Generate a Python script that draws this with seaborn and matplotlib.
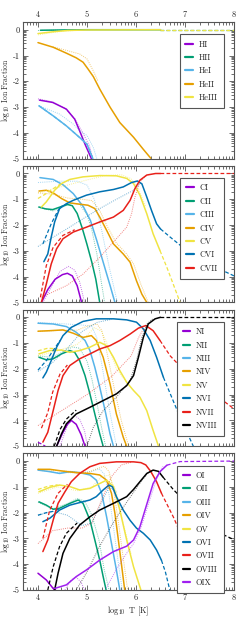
import numpy as np
import seaborn as sns
import matplotlib.pyplot as plt
from matplotlib.ticker import FixedLocator

# ---------------- hydrogen / helium ----------------
HI_T = [4.03, 4.3, 4.58, 4.75, 4.85, 4.96, 5.09]
HI_f = [-2.73, -2.82, -3.08, -3.47, -3.92, -4.44, -5.0]
HI_dot_T = [4.0, 4.3, 4.55, 4.75, 4.9, 5.05, 5.12]
HI_dot_f = [-2.68, -2.8, -3.05, -3.45, -3.95, -4.5, -5.0]

HII_T = [4.05, 4.5, 5.0, 6.5]
HII_f = [-0.02, -0.01, 0.0, 0.0]
HII_tail_T = [6.5, 8.0]
HII_tail_f = [0.0, 0.0]
HII_dot_T = [4.0, 4.3, 4.6]
HII_dot_f = [-0.03, -0.02, -0.01]

HeI_T = [4.02, 4.31, 4.58, 4.85, 5.0, 5.12]
HeI_f = [-2.95, -3.34, -3.73, -4.18, -4.44, -5.0]
HeI_dot_T = [4.02, 4.44, 4.72, 4.85, 5.0, 5.13, 5.2]
HeI_dot_f = [-2.95, -3.27, -3.66, -3.92, -4.1, -4.57, -5.0]

HeII_T = [4.0, 4.31, 4.58, 4.78, 4.92, 5.02, 5.13, 5.26, 5.47, 5.67, 5.95, 6.15, 6.3]
HeII_f = [-0.5, -0.68, -0.91, -1.09, -1.26, -1.52, -1.82, -2.3, -3.0, -3.6, -4.17, -4.64, -4.98]
HeII_dot_T = [4.3, 4.58, 4.85, 5.0, 5.13, 5.22]
HeII_dot_f = [-0.66, -0.8, -0.94, -1.13, -1.6, -1.97]

HeIII_T = [4.0, 4.3, 4.6, 5.0, 6.5]
HeIII_f = [-0.15, -0.08, -0.03, -0.01, 0.0]
HeIII_tail_T = [6.5, 8.0]
HeIII_tail_f = [0.0, 0.0]
HeIII_dot_T = [4.0, 4.4, 4.8]
HeIII_dot_f = [-0.2, -0.08, -0.02]

# ---------------- carbon ----------------
CI_T = [4.07, 4.2, 4.35, 4.5, 4.6, 4.7, 4.8, 4.89]
CI_f = [-5.0, -4.5, -4.1, -3.92, -3.87, -3.97, -4.35, -5.0]
CI_dot_T = [4.1, 4.3, 4.45, 4.62, 4.75, 4.85, 4.95]
CI_dot_f = [-5.0, -4.3, -3.8, -3.6, -3.75, -4.2, -5.0]

CII_T = [4.02, 4.15, 4.3, 4.45, 4.6, 4.7, 4.8, 4.9, 5.0, 5.1, 5.18, 5.26]
CII_f = [-1.3, -1.37, -1.4, -1.3, -1.2, -1.25, -1.55, -2.1, -2.75, -3.45, -4.1, -5.0]
CII_dot_T = [4.0, 4.3, 4.5, 4.7, 4.85, 5.0, 5.1, 5.2, 5.3, 5.36]
CII_dot_f = [-1.3, -1.45, -1.3, -1.15, -1.2, -1.6, -2.2, -3.1, -4.3, -5.0]

CIII_T = [4.04, 4.31, 4.52, 4.72, 4.93, 5.07, 5.2, 5.34, 5.48, 5.57]
CIII_f = [-0.16, -0.23, -0.45, -0.78, -1.3, -1.82, -2.6, -3.5, -4.4, -5.0]
CIII_dot_T = [4.0, 4.4, 4.8, 5.0, 5.15, 5.3, 5.45, 5.62]
CIII_dot_f = [-0.35, -0.3, -0.3, -0.45, -1.0, -2.2, -3.6, -5.0]

CIV_T = [4.02, 4.17, 4.31, 4.48, 4.65, 4.85, 5.02, 5.16, 5.26, 5.4, 5.54, 5.74, 5.88, 6.01, 6.12, 6.22]
CIV_f = [-0.68, -0.65, -0.75, -0.97, -1.14, -1.19, -1.23, -1.36, -1.69, -2.2, -2.73, -3.12, -3.44, -4.16, -4.68, -5.0]
CIV_dot_T = [4.0, 4.3, 4.6, 4.9, 5.1, 5.25, 5.4, 5.6, 5.8, 5.95, 6.1, 6.25]
CIV_dot_f = [-0.75, -0.8, -0.95, -1.0, -1.05, -1.4, -2.0, -2.7, -3.1, -3.5, -4.3, -5.0]

CV_T = [4.07, 4.17, 4.34, 4.48, 4.65, 4.92, 5.26, 5.6, 5.81, 5.95, 6.08, 6.22, 6.35, 6.49]
CV_f = [-1.3, -1.1, -0.65, -0.39, -0.23, -0.13, -0.08, -0.09, -0.19, -0.39, -0.84, -1.56, -2.34, -2.99]
CV_head_T = [4.0, 4.15, 4.3, 4.45]
CV_head_f = [-0.97, -0.8, -0.6, -0.42]
CV_tail_T = [6.49, 6.63, 6.76, 6.9]
CV_tail_f = [-2.99, -3.64, -4.29, -5.0]
CV_dot_T = [4.0, 4.3, 4.6, 5.0, 5.4, 5.7, 5.9, 6.05, 6.2]
CV_dot_f = [-0.75, -0.6, -0.45, -0.25, -0.07, -0.05, -0.2, -0.6, -1.3]

CVI_T = [4.12, 4.2, 4.27, 4.34, 4.44, 4.58, 4.72, 4.99, 5.26, 5.54, 5.74, 5.91, 6.03, 6.12, 6.22, 6.32, 6.42, 6.5]
CVI_f = [-3.42, -3.12, -2.47, -1.88, -1.36, -1.17, -1.04, -0.84, -0.71, -0.62, -0.52, -0.35, -0.29, -0.4, -0.91, -1.45, -1.95, -2.15]
CVI_head_T = [4.1, 4.27, 4.41, 4.5]
CVI_head_f = [-2.73, -1.95, -1.43, -1.25]
CVI_tail_T = [6.5, 6.7, 7.03, 7.37, 7.7, 8.0]
CVI_tail_f = [-2.15, -2.47, -2.98, -3.37, -3.7, -3.97]
CVI_dot_T = [4.0, 4.5, 5.0, 5.26, 5.6, 5.95, 6.1]
CVI_dot_f = [-2.83, -2.25, -1.66, -1.36, -1.0, -0.65, -0.35]

CVII_T = [4.07, 4.17, 4.27, 4.38, 4.51, 4.72, 4.99, 5.26, 5.54, 5.74, 5.88, 5.98, 6.08, 6.22, 6.4, 6.5]
CVII_f = [-5.0, -4.29, -3.51, -2.92, -2.53, -2.27, -2.08, -1.88, -1.69, -1.43, -1.04, -0.58, -0.26, -0.06, 0.0, 0.0]
CVII_head_T = [4.05, 4.17, 4.31, 4.51, 4.75]
CVII_head_f = [-4.8, -3.57, -2.86, -2.4, -2.18]
CVII_tail_T = [6.5, 8.0]
CVII_tail_f = [0.0, 0.0]
CVII_dot_T = [4.07, 4.58, 4.92, 5.26, 5.6, 5.81, 5.91, 5.98, 6.08, 6.22]
CVII_dot_f = [-4.8, -4.35, -3.9, -3.25, -2.53, -2.08, -1.56, -0.91, -0.32, -0.06]

# ---------------- nitrogen ----------------
NI_T = [4.38, 4.5, 4.6, 4.68, 4.78, 4.88, 4.96]
NI_f = [-5.0, -4.5, -4.15, -4.0, -4.15, -4.55, -5.0]
NI_head_T = [4.0, 4.08, 4.15]
NI_head_f = [-4.85, -4.92, -5.0]
NI_dot_T = [4.45, 4.6, 4.75, 4.85, 4.95, 5.01]
NI_dot_f = [-5.0, -4.2, -3.81, -3.95, -4.4, -5.0]

NII_T = [4.02, 4.17, 4.31, 4.48, 4.65, 4.75, 4.85, 4.96, 5.06, 5.16, 5.26, 5.33]
NII_f = [-1.55, -1.65, -1.61, -1.42, -1.29, -1.36, -1.68, -2.26, -2.97, -3.75, -4.52, -5.0]
NII_dot_T = [4.0, 4.3, 4.5, 4.7, 4.85, 5.0, 5.1, 5.2, 5.3, 5.38]
NII_dot_f = [-1.5, -1.55, -1.35, -1.15, -1.2, -1.7, -2.4, -3.3, -4.3, -5.0]

NIII_T = [4.0, 4.31, 4.58, 4.78, 4.96, 5.06, 5.16, 5.26, 5.37, 5.47, 5.54]
NIII_f = [-0.23, -0.26, -0.36, -0.58, -0.9, -1.29, -1.94, -2.71, -3.62, -4.52, -5.0]
NIII_dot_T = [4.0, 4.5, 4.9, 5.1, 5.2, 5.3, 5.45, 5.6]
NIII_dot_f = [-0.2, -0.25, -0.3, -0.35, -0.8, -1.8, -3.5, -5.0]

NIV_T = [4.0, 4.24, 4.51, 4.72, 4.92, 5.09, 5.19, 5.33, 5.47, 5.6, 5.74, 5.81]
NIV_f = [-0.54, -0.52, -0.49, -0.62, -0.78, -0.71, -0.9, -1.55, -2.58, -3.75, -4.65, -5.0]
NIV_dot_T = [4.0, 4.5, 4.8, 5.0, 5.2, 5.3, 5.4, 5.55, 5.7, 5.85]
NIV_dot_f = [-0.55, -0.5, -0.5, -0.35, -0.26, -0.5, -1.3, -2.7, -4.0, -5.0]

NV_T = [4.02, 4.24, 4.48, 4.65, 4.85, 5.06, 5.26, 5.4, 5.54, 5.67, 5.81, 5.95, 6.08, 6.22, 6.35, 6.46]
NV_f = [-1.42, -1.29, -1.27, -1.36, -1.29, -1.16, -0.97, -1.1, -1.55, -2.07, -2.52, -2.84, -3.1, -3.62, -4.39, -5.0]
NV_head_T = [4.0, 4.2, 4.4]
NV_head_f = [-1.3, -1.2, -1.22]
NV_dot_T = [4.0, 4.4, 4.8, 5.0, 5.15, 5.3, 5.45, 5.6, 5.8]
NV_dot_f = [-1.5, -1.3, -1.05, -0.7, -0.4, -0.55, -1.2, -2.0, -2.5]

NVI_T = [4.1, 4.17, 4.27, 4.38, 4.51, 4.68, 4.92, 5.19, 5.54, 5.81, 6.01, 6.15, 6.29, 6.42, 6.56]
NVI_f = [-2.35, -2.13, -1.68, -1.16, -0.71, -0.39, -0.16, -0.06, -0.06, -0.1, -0.19, -0.45, -0.9, -1.55, -2.33]
NVI_head_T = [4.0, 4.17, 4.31, 4.45]
NVI_head_f = [-2.05, -1.68, -1.29, -0.9]
NVI_tail_T = [6.56, 6.7, 6.9, 7.17]
NVI_tail_f = [-2.33, -2.97, -3.88, -5.0]
NVI_dot_T = [4.0, 4.3, 4.6, 4.9, 5.2, 5.5]
NVI_dot_f = [-2.1, -1.75, -1.2, -0.55, -0.2, -0.08]

NVII_T = [4.1, 4.2, 4.31, 4.41, 4.51, 4.65, 4.85, 5.06, 5.26, 5.47, 5.67, 5.88, 6.05, 6.2, 6.35, 6.49]
NVII_f = [-4.84, -4.46, -3.62, -2.84, -2.26, -1.87, -1.61, -1.42, -1.23, -1.1, -0.9, -0.65, -0.42, -0.32, -0.52, -0.9]
NVII_head_T = [4.07, 4.2, 4.3, 4.45, 4.6]
NVII_head_f = [-4.3, -3.7, -2.9, -2.2, -1.85]
NVII_tail_T = [6.49, 6.7, 7.0, 7.3, 7.65, 8.0]
NVII_tail_f = [-0.9, -1.5, -2.1, -2.55, -3.05, -3.55]
NVII_dot_T = [4.0, 4.5, 5.0, 5.5, 5.9, 6.05, 6.15]
NVII_dot_f = [-4.2, -3.6, -3.0, -2.3, -1.5, -0.8, -0.45]

NVIII_T = [4.38, 4.48, 4.58, 4.78, 5.06, 5.33, 5.6, 5.81, 5.95, 6.05, 6.15, 6.25, 6.39, 6.5]
NVIII_f = [-5.0, -4.52, -4.13, -3.75, -3.49, -3.23, -2.97, -2.65, -2.26, -1.55, -0.78, -0.26, -0.06, 0.0]
NVIII_head_T = [4.33, 4.45, 4.58, 4.78]
NVIII_head_f = [-5.0, -4.35, -3.95, -3.6]
NVIII_tail_T = [6.5, 8.0]
NVIII_tail_f = [0.0, 0.0]
NVIII_dot_T = [5.0, 5.13, 5.33, 5.6, 5.88, 6.01, 6.12, 6.22, 6.35]
NVIII_dot_f = [-5.0, -4.26, -3.62, -3.1, -2.45, -1.68, -0.78, -0.26, -0.05]

# ---------------- oxygen ----------------
OI_T = [4.0, 4.17, 4.31, 4.36]
OI_f = [-4.35, -4.61, -4.94, -5.0]
OI_dot_T = [4.55, 4.68, 4.78, 4.88, 4.95]
OI_dot_f = [-5.0, -4.6, -4.5, -4.7, -5.0]

OII_T = [4.02, 4.17, 4.31, 4.44, 4.65, 4.82, 4.92, 5.06, 5.16, 5.26, 5.33, 5.39]
OII_f = [-1.58, -1.71, -1.87, -1.83, -1.64, -1.51, -1.64, -2.29, -3.06, -3.84, -4.48, -5.0]
OII_dot_T = [4.0, 4.3, 4.6, 4.8, 4.95, 5.1, 5.25, 5.35, 5.45]
OII_dot_f = [-1.6, -1.85, -1.65, -1.45, -1.55, -2.1, -3.1, -4.2, -5.0]

OIII_T = [4.0, 4.24, 4.44, 4.65, 4.85, 5.06, 5.19, 5.3, 5.4, 5.5, 5.6, 5.67]
OIII_f = [-0.35, -0.41, -0.48, -0.41, -0.45, -0.54, -0.74, -1.25, -2.16, -3.19, -4.22, -5.0]
OIII_dot_T = [4.0, 4.4, 4.8, 5.1, 5.25, 5.35, 5.45, 5.55, 5.65, 5.72]
OIII_dot_f = [-0.35, -0.45, -0.45, -0.4, -0.3, -0.5, -1.3, -2.7, -4.1, -5.0]

OIV_T = [4.0, 4.24, 4.51, 4.78, 5.06, 5.26, 5.4, 5.5, 5.57, 5.64, 5.71, 5.77]
OIV_f = [-0.32, -0.32, -0.39, -0.45, -0.48, -0.54, -0.74, -1.25, -2.03, -3.06, -4.1, -5.0]
OIV_dot_T = [4.0, 4.5, 5.0, 5.2, 5.35, 5.45, 5.55, 5.65, 5.75, 5.83]
OIV_dot_f = [-0.32, -0.38, -0.45, -0.3, -0.2, -0.4, -1.2, -2.5, -3.9, -5.0]

OV_T = [4.02, 4.24, 4.44, 4.65, 4.85, 5.06, 5.26, 5.4, 5.54, 5.67, 5.81, 5.95, 6.1]
OV_f = [-1.19, -1.02, -0.93, -0.99, -1.12, -1.06, -0.87, -0.74, -0.99, -1.9, -3.06, -4.1, -5.0]
OV_head_T = [4.0, 4.2, 4.4]
OV_head_f = [-1.1, -0.98, -0.92]
OV_dot_T = [4.0, 4.4, 4.8, 5.1, 5.3, 5.45, 5.6, 5.75, 5.9]
OV_dot_f = [-1.25, -1.0, -1.15, -1.0, -0.6, -0.55, -1.2, -2.5, -3.6]

OVI_T = [4.1, 4.24, 4.44, 4.65, 4.85, 5.06, 5.19, 5.33, 5.45, 5.52, 5.6, 5.74, 5.88, 6.01, 6.15, 6.29, 6.42, 6.52]
OVI_f = [-2.35, -2.22, -1.9, -1.71, -1.61, -1.51, -1.38, -1.12, -0.93, -1.0, -1.38, -1.9, -2.3, -2.6, -2.8, -3.06, -3.45, -3.85]
OVI_head_T = [4.0, 4.17, 4.31, 4.45]
OVI_head_f = [-2.1, -2.0, -1.95, -1.85]
OVI_tail_T = [6.52, 6.6, 6.69]
OVI_tail_f = [-3.85, -4.3, -5.0]
OVI_dot_T = [4.0, 4.3, 4.6, 4.9, 5.1, 5.3, 5.45, 5.6]
OVI_dot_f = [-2.1, -1.95, -2.1, -2.5, -2.4, -1.6, -1.0, -1.2]

OVII_T = [4.1, 4.2, 4.31, 4.41, 4.55, 4.68, 4.85, 5.06, 5.26, 5.6, 5.95, 6.1, 6.2, 6.3, 6.42, 6.52]
OVII_f = [-3.51, -3.06, -2.29, -1.64, -1.19, -0.8, -0.48, -0.22, -0.09, -0.03, -0.03, -0.06, -0.15, -0.4, -0.8, -1.25]
OVII_head_T = [4.1, 4.24, 4.41, 4.6]
OVII_head_f = [-3.0, -1.9, -1.25, -0.9]
OVII_tail_T = [6.52, 6.76, 7.03, 7.4]
OVII_tail_f = [-1.25, -2.16, -3.32, -5.0]
OVII_dot_T = [4.0, 4.3, 4.6, 4.9, 5.1, 5.3, 5.5, 5.7, 5.9]
OVII_dot_f = [-3.2, -2.7, -2.6, -2.6, -2.4, -1.5, -0.6, -0.15, -0.05]

OVIII_T = [4.34, 4.41, 4.51, 4.65, 4.85, 5.06, 5.26, 5.54, 5.81, 5.95, 6.08, 6.22, 6.35, 6.46, 6.55]
OVIII_f = [-5.0, -4.35, -3.58, -3.0, -2.48, -2.16, -1.9, -1.64, -1.38, -1.1, -0.8, -0.48, -0.35, -0.4, -0.62]
OVIII_head_T = [4.2, 4.31, 4.44, 4.58, 4.8]
OVIII_head_f = [-5.0, -4.1, -3.32, -2.8, -2.4]
OVIII_tail_T = [6.55, 6.76, 6.97, 7.2, 7.44, 7.72, 8.0]
OVIII_tail_f = [-0.62, -1.1, -1.51, -2.0, -2.5, -2.8, -3.05]
OVIII_dot_T = [4.78, 5.0, 5.26, 5.5, 5.7, 5.9, 6.1, 6.25, 6.35]
OVIII_dot_f = [-5.0, -4.3, -3.3, -2.5, -1.9, -1.35, -0.8, -0.45, -0.35]

OIX_T = [4.34, 4.58, 4.78, 4.99, 5.26, 5.54, 5.81, 5.95, 6.08, 6.2, 6.35, 6.49, 6.63]
OIX_f = [-4.94, -4.8, -4.48, -4.22, -3.84, -3.51, -3.3, -3.06, -2.55, -1.8, -0.87, -0.41, -0.16]
OIX_tail_T = [6.63, 6.9, 8.0]
OIX_tail_f = [-0.16, -0.02, 0.0]
OIX_dot_T = [5.39, 5.6, 5.8, 5.95, 6.1, 6.25, 6.4, 6.55]
OIX_dot_f = [-4.93, -4.2, -3.6, -3.2, -2.6, -1.7, -0.8, -0.2]

stage_colors = ['#9400D3', '#009E73', '#56B4E9', '#E69F00', '#F0E442',
                '#0072B2', '#E8201A', '#000000', '#A020F0']

panels = [
    [('HI', 0, (HI_T, HI_f), [], [(HI_dot_T, HI_dot_f)]),
     ('HII', 1, (HII_T, HII_f), [(HII_tail_T, HII_tail_f)], [(HII_dot_T, HII_dot_f)]),
     ('HeI', 2, (HeI_T, HeI_f), [(HeI_T, HeI_f)], [(HeI_dot_T, HeI_dot_f)]),
     ('HeII', 3, (HeII_T, HeII_f), [], [(HeII_dot_T, HeII_dot_f)]),
     ('HeIII', 4, (HeIII_T, HeIII_f), [(HeIII_tail_T, HeIII_tail_f)], [(HeIII_dot_T, HeIII_dot_f)])],
    [('CI', 0, (CI_T, CI_f), [], [(CI_dot_T, CI_dot_f)]),
     ('CII', 1, (CII_T, CII_f), [], [(CII_dot_T, CII_dot_f)]),
     ('CIII', 2, (CIII_T, CIII_f), [], [(CIII_dot_T, CIII_dot_f)]),
     ('CIV', 3, (CIV_T, CIV_f), [], [(CIV_dot_T, CIV_dot_f)]),
     ('CV', 4, (CV_T, CV_f), [(CV_head_T, CV_head_f), (CV_tail_T, CV_tail_f)], [(CV_dot_T, CV_dot_f)]),
     ('CVI', 5, (CVI_T, CVI_f), [(CVI_head_T, CVI_head_f), (CVI_tail_T, CVI_tail_f)], [(CVI_dot_T, CVI_dot_f)]),
     ('CVII', 6, (CVII_T, CVII_f), [(CVII_head_T, CVII_head_f), (CVII_tail_T, CVII_tail_f)], [(CVII_dot_T, CVII_dot_f)])],
    [('NI', 0, (NI_T, NI_f), [(NI_head_T, NI_head_f)], [(NI_dot_T, NI_dot_f)]),
     ('NII', 1, (NII_T, NII_f), [], [(NII_dot_T, NII_dot_f)]),
     ('NIII', 2, (NIII_T, NIII_f), [], [(NIII_dot_T, NIII_dot_f)]),
     ('NIV', 3, (NIV_T, NIV_f), [], [(NIV_dot_T, NIV_dot_f)]),
     ('NV', 4, (NV_T, NV_f), [(NV_head_T, NV_head_f)], [(NV_dot_T, NV_dot_f)]),
     ('NVI', 5, (NVI_T, NVI_f), [(NVI_head_T, NVI_head_f), (NVI_tail_T, NVI_tail_f)], [(NVI_dot_T, NVI_dot_f)]),
     ('NVII', 6, (NVII_T, NVII_f), [(NVII_head_T, NVII_head_f), (NVII_tail_T, NVII_tail_f)], [(NVII_dot_T, NVII_dot_f)]),
     ('NVIII', 7, (NVIII_T, NVIII_f), [(NVIII_head_T, NVIII_head_f), (NVIII_tail_T, NVIII_tail_f)], [(NVIII_dot_T, NVIII_dot_f)])],
    [('OI', 0, (OI_T, OI_f), [], [(OI_dot_T, OI_dot_f)]),
     ('OII', 1, (OII_T, OII_f), [], [(OII_dot_T, OII_dot_f)]),
     ('OIII', 2, (OIII_T, OIII_f), [], [(OIII_dot_T, OIII_dot_f)]),
     ('OIV', 3, (OIV_T, OIV_f), [], [(OIV_dot_T, OIV_dot_f)]),
     ('OV', 4, (OV_T, OV_f), [(OV_head_T, OV_head_f)], [(OV_dot_T, OV_dot_f)]),
     ('OVI', 5, (OVI_T, OVI_f), [(OVI_head_T, OVI_head_f), (OVI_tail_T, OVI_tail_f)], [(OVI_dot_T, OVI_dot_f)]),
     ('OVII', 6, (OVII_T, OVII_f), [(OVII_head_T, OVII_head_f), (OVII_tail_T, OVII_tail_f)], [(OVII_dot_T, OVII_dot_f)]),
     ('OVIII', 7, (OVIII_T, OVIII_f), [(OVIII_head_T, OVIII_head_f), (OVIII_tail_T, OVIII_tail_f)], [(OVIII_dot_T, OVIII_dot_f)]),
     ('OIX', 8, (OIX_T, OIX_f), [(OIX_tail_T, OIX_tail_f)], [(OIX_dot_T, OIX_dot_f)])],
]

sns.set_theme(style='ticks')
plt.rcParams['font.family'] = ['cmr10', 'DejaVu Serif']
plt.rcParams['mathtext.fontset'] = 'cm'
plt.rcParams['axes.formatter.use_mathtext'] = False
plt.rcParams['axes.unicode_minus'] = False
plt.rcParams['lines.dashed_pattern'] = [3.0, 1.8]
plt.rcParams['lines.dotted_pattern'] = [1.0, 1.2]

frame = '#555555'
xlabel = r'$\log_{10}$ T [K]'
ylabel = r'$\log_{10}$ Ion Fraction'

# log-style minor ticks, as in the original
xminor = [np.log10(k * 10.0**n) for n in range(3, 8) for k in range(2, 10)]
yminor = [np.log10(k * 10.0**n) for n in range(-6, 0) for k in range(2, 10)]

fig, axes = plt.subplots(4, 1, figsize=(2.4, 6.28), dpi=100, sharex=True)
fig.subplots_adjust(left=0.097, right=0.975, top=0.965, bottom=0.0605, hspace=0.052)

for ax, ions in zip(axes, panels):
    for name, ci, solid, dashed, dotted in ions:
        col = stage_colors[ci]
        for T, f in dotted:
            sns.lineplot(x=T, y=f, ax=ax, color=col, linewidth=0.7, linestyle=':',
                         alpha=0.55, sort=False, estimator=None)
        for T, f in dashed:
            sns.lineplot(x=T, y=f, ax=ax, color=col, linewidth=0.9, linestyle='--',
                         sort=False, estimator=None)
        sns.lineplot(x=solid[0], y=solid[1], ax=ax, color=col, linewidth=1.1,
                     sort=False, estimator=None, label=name)

    ax.set_xlim(3.7, 8.0)
    ax.set_ylim(-5, 0.3)
    ax.set_xticks([4, 5, 6, 7, 8])
    ax.set_yticks([0, -1, -2, -3, -4, -5])
    ax.xaxis.set_minor_locator(FixedLocator(xminor))
    ax.yaxis.set_minor_locator(FixedLocator(yminor))
    ax.tick_params(which='both', direction='in', top=True, right=True,
                   color=frame, labelsize=6, width=0.6, pad=2.5)
    ax.tick_params(which='major', length=3.5)
    ax.tick_params(which='minor', length=2)
    for s in ax.spines.values():
        s.set_color(frame)
        s.set_linewidth(0.8)
    ax.set_ylabel(ylabel, fontsize=5.5)
    ax.yaxis.set_label_coords(-0.052, 0.5)
    ax.set_xlabel('')

    leg = ax.legend(loc='upper right', bbox_to_anchor=(0.97, 0.94), fontsize=6,
                    frameon=True, fancybox=False, edgecolor=frame, framealpha=1,
                    handlelength=0.9, handletextpad=0.7, labelspacing=0.6,
                    borderpad=0.7)
    leg.get_frame().set_linewidth(0.8)
    for h in leg.legend_handles:
        h.set_linewidth(1.6)

axes[0].tick_params(labeltop=True, labelbottom=False)
axes[0].xaxis.set_label_position('top')
axes[0].set_xlabel(xlabel, fontsize=6, labelpad=3)
axes[3].set_xlabel(xlabel, fontsize=6, labelpad=2)

fig.savefig('out.png', dpi=100)
